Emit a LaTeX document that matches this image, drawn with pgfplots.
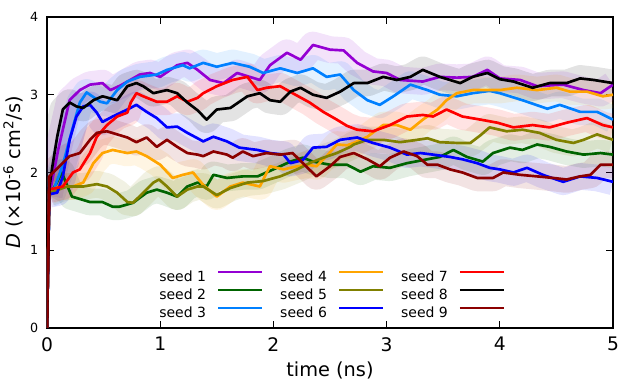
\documentclass[border=0pt]{standalone}
\usepackage{pgfplots}
\pgfplotsset{compat=1.18}
\usepackage{pgfplotstable}
\usepackage{fontspec}
\setmainfont{DejaVu Sans}

\definecolor{s1}{HTML}{9400D3}
\definecolor{s2}{HTML}{006400}
\definecolor{s3}{HTML}{0080FF}
\definecolor{s4}{HTML}{FFA500}
\definecolor{s5}{HTML}{808000}
\definecolor{s6}{HTML}{0000FF}
\definecolor{s7}{HTML}{FF0000}
\definecolor{s8}{HTML}{000000}
\definecolor{s9}{HTML}{8B0000}

% running averages (t in ns, D in 1e-6 cm^2/s)
\pgfplotstableread{
t D
0 0
0.02 1.70
0.10 2.30
0.20 2.93
0.29 3.06
0.38 3.13
0.49 3.15
0.56 3.06
0.65 3.12
0.82 3.26
0.91 3.28
1.00 3.23
1.15 3.38
1.24 3.41
1.33 3.32
1.44 3.19
1.56 3.15
1.68 3.28
1.79 3.23
1.88 3.19
1.97 3.38
2.12 3.54
2.24 3.45
2.35 3.64
2.50 3.58
2.62 3.57
2.74 3.41
2.88 3.30
3.00 3.28
3.12 3.19
3.32 3.17
3.47 3.23
3.62 3.22
3.76 3.23
3.89 3.32
4.00 3.21
4.18 3.19
4.33 3.11
4.56 3.13
4.74 3.06
4.89 3.02
5.00 3.13
}\seedA
\pgfplotstableread{
t D
0 0
0.02 1.70
0.08 1.85
0.13 2.00
0.22 1.69
0.38 1.62
0.49 1.62
0.58 1.56
0.64 1.56
0.76 1.61
0.88 1.74
0.97 1.78
1.06 1.74
1.15 1.69
1.24 1.82
1.33 1.87
1.41 1.82
1.47 1.97
1.59 1.93
1.73 1.95
1.86 1.95
2.00 2.04
2.15 2.14
2.26 2.19
2.35 2.14
2.50 2.10
2.65 2.10
2.77 2.01
2.88 2.08
3.03 2.06
3.18 2.12
3.36 2.17
3.47 2.20
3.59 2.29
3.71 2.20
3.85 2.14
3.94 2.25
4.09 2.32
4.20 2.29
4.33 2.36
4.44 2.33
4.59 2.27
4.74 2.23
4.89 2.25
5.00 2.23
}\seedB
\pgfplotstableread{
t D
0 0
0.02 1.72
0.05 1.74
0.14 2.10
0.23 2.59
0.29 2.90
0.35 3.03
0.47 2.91
0.53 2.89
0.62 3.06
0.71 3.17
0.82 3.23
0.97 3.26
1.06 3.32
1.20 3.38
1.26 3.34
1.38 3.41
1.50 3.36
1.64 3.41
1.79 3.36
1.91 3.28
2.06 3.34
2.21 3.28
2.35 3.34
2.47 3.23
2.59 3.26
2.71 3.06
2.83 2.93
2.94 2.87
3.06 2.98
3.21 3.13
3.36 3.06
3.47 3.00
3.62 2.98
3.76 3.02
3.91 3.05
4.00 3.02
4.20 2.93
4.42 2.82
4.53 2.87
4.71 2.78
4.86 2.78
5.00 2.68
}\seedC
\pgfplotstableread{
t D
0 0
0.02 1.76
0.11 1.82
0.23 1.82
0.32 1.87
0.41 2.12
0.49 2.25
0.58 2.29
0.71 2.25
0.79 2.27
0.88 2.21
1.00 2.10
1.11 1.93
1.20 1.97
1.29 2.00
1.38 1.84
1.50 1.69
1.62 1.82
1.73 1.87
1.88 1.82
1.97 2.08
2.09 2.04
2.21 2.08
2.30 2.10
2.38 2.08
2.47 2.21
2.56 2.36
2.65 2.35
2.71 2.38
2.83 2.46
2.97 2.61
3.09 2.61
3.21 2.55
3.32 2.68
3.45 2.81
3.53 2.93
3.62 3.02
3.76 3.06
3.91 3.06
4.00 3.06
4.15 3.09
4.33 3.06
4.50 3.09
4.62 3.04
4.77 3.04
4.91 2.98
5.00 3.00
}\seedD
\pgfplotstableread{
t D
0 0
0.02 1.74
0.18 1.82
0.32 1.82
0.44 1.85
0.53 1.82
0.62 1.74
0.71 1.62
0.76 1.61
0.85 1.74
0.94 1.87
0.99 1.91
1.06 1.82
1.15 1.69
1.24 1.78
1.33 1.82
1.38 1.82
1.50 1.71
1.62 1.80
1.77 1.87
1.91 1.89
2.06 1.95
2.21 2.04
2.32 2.12
2.44 2.19
2.56 2.25
2.68 2.33
2.71 2.36
2.83 2.42
2.97 2.42
3.12 2.39
3.27 2.42
3.36 2.44
3.47 2.39
3.62 2.38
3.74 2.38
3.83 2.48
3.91 2.58
4.06 2.53
4.20 2.55
4.35 2.51
4.50 2.42
4.65 2.38
4.74 2.42
4.86 2.49
5.00 2.42
}\seedE
\pgfplotstableread{
t D
0 0
0.02 1.72
0.09 1.74
0.14 1.95
0.20 2.42
0.26 2.72
0.32 2.85
0.38 2.87
0.44 2.77
0.49 2.65
0.58 2.72
0.71 2.81
0.79 2.87
0.88 2.78
0.97 2.70
1.06 2.58
1.15 2.59
1.24 2.51
1.33 2.44
1.38 2.40
1.47 2.46
1.59 2.40
1.70 2.32
1.86 2.29
1.97 2.25
2.09 2.23
2.15 2.12
2.26 2.16
2.35 2.32
2.47 2.33
2.59 2.42
2.74 2.45
2.88 2.38
3.03 2.32
3.18 2.23
3.30 2.25
3.41 2.23
3.56 2.20
3.67 2.17
3.80 2.12
3.91 2.06
4.00 2.04
4.12 2.00
4.24 2.06
4.38 1.97
4.56 1.88
4.71 1.95
4.86 1.93
5.00 1.88
}\seedF
\pgfplotstableread{
t D
0 0
0.02 1.78
0.14 1.82
0.23 2.00
0.29 2.04
0.38 2.25
0.44 2.46
0.53 2.61
0.62 2.72
0.71 2.77
0.74 2.90
0.79 3.02
0.85 2.98
0.97 2.91
1.06 2.91
1.15 2.98
1.24 2.91
1.33 2.96
1.38 3.02
1.50 3.11
1.64 3.19
1.77 3.23
1.86 3.06
1.94 3.09
2.06 3.11
2.17 3.02
2.32 2.90
2.44 2.78
2.56 2.68
2.65 2.60
2.74 2.55
2.88 2.53
3.03 2.61
3.18 2.72
3.32 2.74
3.41 2.72
3.53 2.81
3.67 2.72
3.83 2.68
3.98 2.64
4.12 2.58
4.29 2.61
4.44 2.58
4.59 2.64
4.77 2.70
4.91 2.61
5.00 2.58
}\seedG
\pgfplotstableread{
t D
0 0
0.02 1.80
0.05 2.10
0.09 2.46
0.14 2.81
0.20 2.90
0.26 2.85
0.32 2.83
0.41 2.93
0.49 2.98
0.62 2.93
0.71 3.11
0.79 3.15
0.85 3.11
0.94 3.02
1.06 3.06
1.15 3.02
1.24 2.90
1.33 2.80
1.41 2.68
1.50 2.81
1.62 2.83
1.77 2.98
1.88 3.02
1.97 2.93
2.06 2.91
2.15 3.04
2.24 3.09
2.35 3.00
2.47 2.96
2.59 3.04
2.71 3.15
2.83 3.15
2.97 3.23
3.09 3.19
3.21 3.23
3.32 3.32
3.47 3.23
3.65 3.15
3.76 3.23
3.89 3.28
4.00 3.20
4.12 3.17
4.29 3.09
4.44 3.15
4.59 3.15
4.71 3.21
4.83 3.19
5.00 3.15
}\seedH
\pgfplotstableread{
t D
0 0
0.02 1.95
0.11 2.08
0.20 2.21
0.29 2.25
0.38 2.42
0.44 2.51
0.53 2.53
0.62 2.49
0.71 2.45
0.79 2.39
0.88 2.45
0.97 2.33
1.06 2.42
1.15 2.33
1.24 2.25
1.33 2.23
1.38 2.21
1.47 2.27
1.59 2.23
1.64 2.19
1.73 2.27
1.82 2.21
1.94 2.25
2.06 2.23
2.17 2.25
2.26 2.12
2.38 1.95
2.50 2.08
2.59 2.20
2.71 2.25
2.83 2.17
2.94 2.08
3.03 2.19
3.15 2.27
3.27 2.21
3.36 2.10
3.45 2.10
3.56 2.04
3.67 2.00
3.80 1.93
3.94 1.93
4.03 2.00
4.18 1.97
4.33 1.95
4.47 1.93
4.59 1.91
4.71 1.95
4.80 1.97
4.89 2.10
5.00 2.10
}\seedI

\begin{document}
\begin{tikzpicture}
\path[use as bounding box] (-35.25pt,-42pt) rectangle (444.75pt,246pt);
\begin{axis}[
    at={(0,0)}, anchor=south west,
    scale only axis,
    width=424.5pt, height=233.25pt,
    xmin=0, xmax=5, ymin=0, ymax=4,
    xtick={0,1,2,3,4,5}, ytick={0,1,2,3,4},
    tick align=inside,
    major tick length=5pt,
    axis line style={line width=0.8pt},
    every tick/.style={black, line width=0.8pt},
    /pgf/number format/assume math mode=true,
    xticklabel style={font=\fontsize{14}{16}\selectfont, yshift=-3.5pt},
    yticklabel style={font=\fontsize{9.5}{11}\selectfont, xshift=-3pt},
    xlabel={time (ns)},
    ylabel={\textit{D} (×10\textsuperscript{-6} cm\textsuperscript{2}/s)},
    xlabel style={font=\fontsize{14.5}{17}\selectfont, at={(axis description cs:0.5,0)}, anchor=base, yshift=-36.75pt},
    ylabel style={font=\fontsize{14.5}{17}\selectfont, at={([xshift=-20pt]axis description cs:0,0.5)}, anchor=base},
    legend columns=3,
    transpose legend,
    legend plot pos=right,
    legend cell align=left,
    legend image code/.code={\draw[#1, line width=1.6pt] (0pt,3.8pt) -- (33pt,3.8pt);},
    legend style={at={(rel axis cs:0.198,0.1926)}, anchor=north west,
        draw=none, fill=none, inner sep=0pt, row sep=0pt,
        font=\fontsize{10.5}{12}\selectfont,
        nodes={inner sep=0pt, text height=10pt, text depth=3.5pt},
        /tikz/every odd column/.append style={column sep=8.25pt},
        /tikz/every even column/.append style={column sep=12.75pt}},
    band/.style={line width=20pt, opacity=0.11, line join=round, forget plot, skip coords between index={0}{1}},
    main/.style={line width=2pt, line join=round},
]
\addplot[band, s1] table {\seedA};
\addplot[band, s2] table {\seedB};
\addplot[band, s3] table {\seedC};
\addplot[band, s4] table {\seedD};
\addplot[band, s5] table {\seedE};
\addplot[band, s6] table {\seedF};
\addplot[band, s7] table {\seedG};
\addplot[band, s8] table {\seedH};
\addplot[band, s9] table {\seedI};

\addplot[main, s1] table {\seedA}; \addlegendentry{seed 1}
\addplot[main, s2] table {\seedB}; \addlegendentry{seed 2}
\addplot[main, s3] table {\seedC}; \addlegendentry{seed 3}
\addplot[main, s4] table {\seedD}; \addlegendentry{seed 4}
\addplot[main, s5] table {\seedE}; \addlegendentry{seed 5}
\addplot[main, s6] table {\seedF}; \addlegendentry{seed 6}
\addplot[main, s7] table {\seedG}; \addlegendentry{seed 7}
\addplot[main, s8] table {\seedH}; \addlegendentry{seed 8}
\addplot[main, s9] table {\seedI}; \addlegendentry{seed 9}
\end{axis}
\end{tikzpicture}
\end{document}
